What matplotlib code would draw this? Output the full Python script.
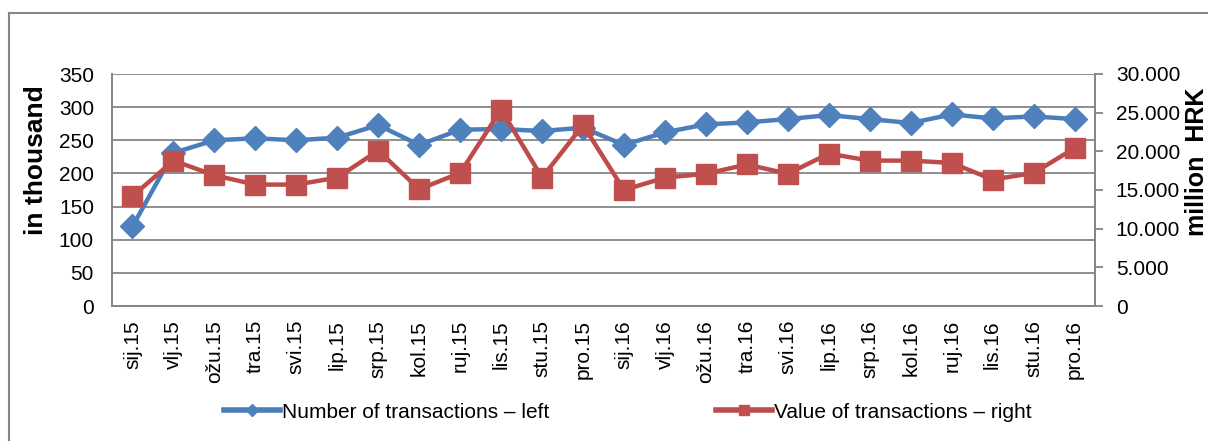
import matplotlib
matplotlib.use("Agg")
import matplotlib.pyplot as plt
from matplotlib.lines import Line2D
from matplotlib.ticker import FuncFormatter

months = ["sij.15", "vlj.15", "ožu.15", "tra.15", "svi.15", "lip.15", "srp.15", "kol.15",
          "ruj.15", "lis.15", "stu.15", "pro.15", "sij.16", "vlj.16", "ožu.16", "tra.16",
          "svi.16", "lip.16", "srp.16", "kol.16", "ruj.16", "lis.16", "stu.16", "pro.16"]
number_left = [120, 231, 250, 253, 250, 254, 273, 243, 266, 267, 264, 269,
               243, 262, 274, 277, 282, 288, 282, 276, 289, 283, 286, 282]
value_right = [14200, 18800, 16900, 15700, 15700, 16600, 20100, 15100, 17200, 25400, 16600, 23400,
               15000, 16600, 17100, 18300, 17100, 19700, 18800, 18800, 18500, 16350, 17200, 20400]
left_ticks = [0, 50, 100, 150, 200, 250, 300, 350]
right_ticks = [0, 5000, 10000, 15000, 20000, 25000, 30000]

plt.rcParams['font.family'] = ['Liberation Sans', 'DejaVu Sans']

W, H = 1208, 441
fig = plt.figure(figsize=(W / 100, H / 100), dpi=100)
ax = fig.add_axes([112 / W, 1 - 306 / H, (1095 - 112) / W, (306 - 74) / H])
ax2 = ax.twinx()

grey = '#868686'
blue_line = '#4A7EBB'
blue_mk = '#4F81BD'
red_line = '#BE4B48'
red_mk = '#C0504D'

x = list(range(len(months)))
ax.plot(x, number_left, color=blue_line, lw=3.2, marker='D', ms=12,
        mfc=blue_mk, mec=blue_mk, label='Number of transactions – left', zorder=3)
ax2.plot(x, value_right, color=red_line, lw=3.2, marker='s', ms=14,
         mfc=red_mk, mec=red_mk, label='Value of transactions – right', zorder=3)

ax.set_xlim(-0.5, len(months) - 0.5)
ax.set_ylim(0, 350)
ax.set_yticks(left_ticks)
ax2.set_ylim(0, 30000)
ax2.set_yticks(right_ticks)
ax2.yaxis.set_major_formatter(FuncFormatter(lambda v, p: f"{int(v):,}".replace(",", ".")))

ax.set_xticks(x)
ax.set_xticklabels(months, rotation=90, fontsize=15)
ax.tick_params(axis='x', length=0, pad=10)
ax.tick_params(axis='y', length=0, pad=13, labelsize=15)
ax2.tick_params(axis='y', length=6, width=1.3, color=grey, pad=9, labelsize=15, direction='out')

ax.grid(axis='y', color=grey, lw=1.3)
ax.set_axisbelow(True)
for a in (ax, ax2):
    for s in ('left', 'right', 'bottom', 'top'):
        a.spines[s].set_color(grey)
        a.spines[s].set_linewidth(1.3)
ax2.spines['top'].set_visible(False)
ax.spines['top'].set_visible(False)

fig.text(36 / W, 1 - 160 / H, 'in thousand', rotation=90, fontsize=19,
         fontweight='bold', ha='center', va='center')
fig.text(1197 / W, 1 - 162 / H, 'million  HRK', rotation=90, fontsize=18,
         fontweight='bold', ha='center', va='center')

h1, l1 = ax.get_legend_handles_labels()
h2, l2 = ax2.get_legend_handles_labels()
hd1 = Line2D([], [], color=blue_line, lw=4, marker='D', ms=6, mfc=blue_mk, mec=blue_mk)
hd2 = Line2D([], [], color=red_line, lw=4, marker='s', ms=7, mfc=red_mk, mec=red_mk)
fig.legend([hd1, hd2], l1 + l2, loc='center', bbox_to_anchor=(628 / W, 1 - 412 / H),
           ncol=2, frameon=False, fontsize=15, handlelength=2.7, handletextpad=0.1,
           columnspacing=8.0)

fig.add_artist(Line2D([8.5 / W, 8.5 / W], [0, 1 - 12.7 / H], transform=fig.transFigure,
                      color=grey, lw=1.5))
fig.add_artist(Line2D([8.5 / W, 1], [1 - 12.7 / H, 1 - 12.7 / H], transform=fig.transFigure,
                      color=grey, lw=1.5))

fig.savefig('out.png', dpi=100)
